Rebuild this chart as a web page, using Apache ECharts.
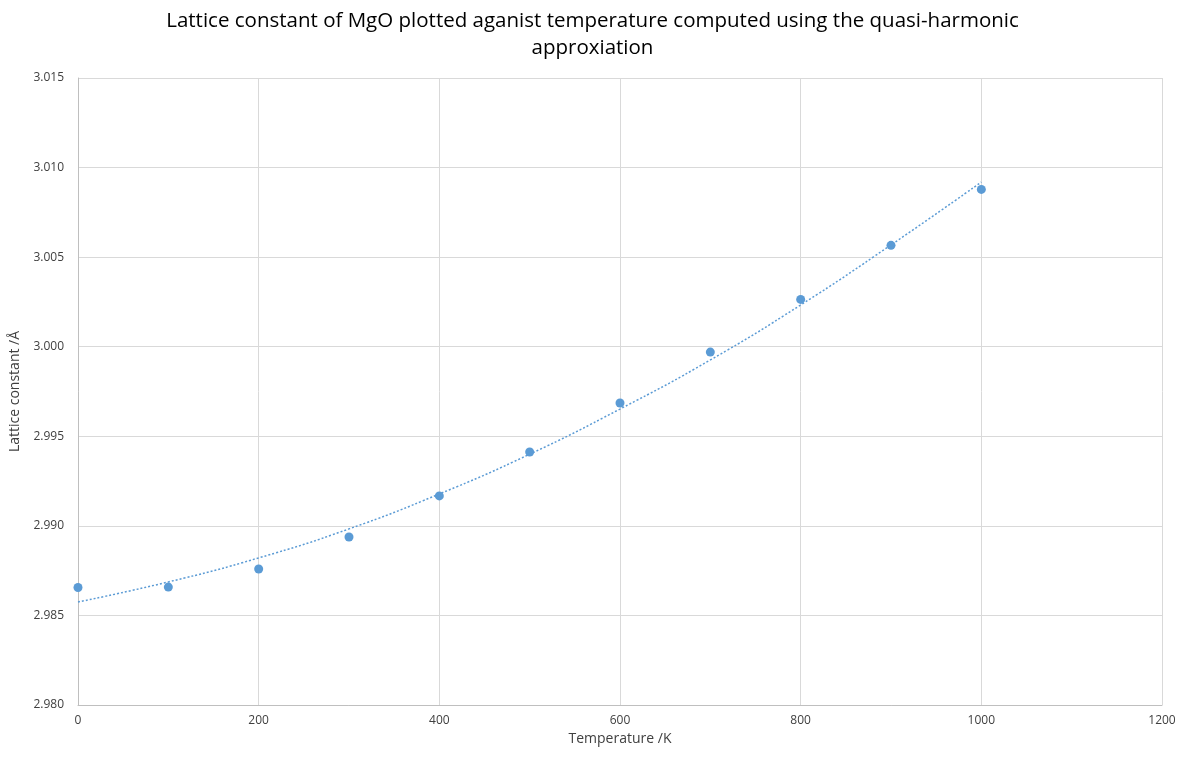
<!DOCTYPE html>
<html><head><meta charset="utf-8">
<script src="https://cdn.jsdelivr.net/npm/echarts@6/dist/echarts.min.js"></script>
<style>html,body{margin:0;padding:0;background:#fff}#c{width:1185px;height:758px}</style>
</head><body><div id="c"></div>
<script>
const temperatures = [0, 100, 200, 300, 400, 500, 600, 700, 800, 900, 1000];
const latticeConstants = [2.98656, 2.98658, 2.98759, 2.98938, 2.99167, 2.99412, 2.99686, 2.99970, 3.00264, 3.00566, 3.00878];
const trendValues = [2.98575, 2.98687, 2.98821, 2.98983, 2.99178, 2.99400, 2.99652, 2.99926, 3.00233, 3.00568, 3.00919];
const xTicks = [0, 200, 400, 600, 800, 1000, 1200];
const yTicks = [2.980, 2.985, 2.990, 2.995, 3.000, 3.005, 3.010, 3.015];

const font = '"Open Sans", "Liberation Sans", sans-serif';
const chart = echarts.init(document.getElementById('c'));
chart.setOption({
  animation: false,
  title: {
    text: 'Lattice constant of MgO plotted aganist temperature computed using the quasi-harmonic\napproxiation',
    left: 'center', top: 3,
    textStyle: { fontFamily: font, fontSize: 20.5, fontWeight: 'normal', color: '#000', lineHeight: 27 }
  },
  grid: { left: 74, right: 23, top: 78, bottom: 53 },
  xAxis: {
    type: 'value', min: xTicks[0], max: xTicks[xTicks.length - 1], interval: 200,
    name: 'Temperature /K', nameLocation: 'middle', nameGap: 27,
    nameTextStyle: { fontFamily: font, fontSize: 14, color: '#404040' },
    axisLine: { show: true, lineStyle: { color: '#bfbfbf' } },
    axisTick: { show: false },
    axisLabel: { fontFamily: font, fontSize: 12, color: '#404040', margin: 10, formatter: v => String(v) },
    splitLine: { show: true, lineStyle: { color: '#d9d9d9' } }
  },
  yAxis: {
    type: 'value', min: yTicks[0], max: yTicks[yTicks.length - 1], interval: 0.005,
    name: 'Lattice constant /Å', nameLocation: 'middle', nameGap: 56,
    nameTextStyle: { fontFamily: font, fontSize: 14, color: '#404040' },
    axisLine: { show: true, lineStyle: { color: '#bfbfbf' } },
    axisTick: { show: false },
    axisLabel: { fontFamily: font, fontSize: 12, color: '#404040', margin: 14, formatter: v => v.toFixed(3) },
    splitLine: { show: true, lineStyle: { color: '#d9d9d9' } }
  },
  series: [
    {
      type: 'line', data: temperatures.map((t, i) => [t, trendValues[i]]),
      smooth: true, showSymbol: false, symbol: 'none',
      lineStyle: { color: '#5b9bd5', width: 1.5, type: [2, 2] }, z: 1
    },
    {
      type: 'scatter', data: temperatures.map((t, i) => [t, latticeConstants[i]]),
      symbolSize: 9, itemStyle: { color: '#5b9bd5', opacity: 1 }, z: 2
    }
  ]
});
</script></body></html>
